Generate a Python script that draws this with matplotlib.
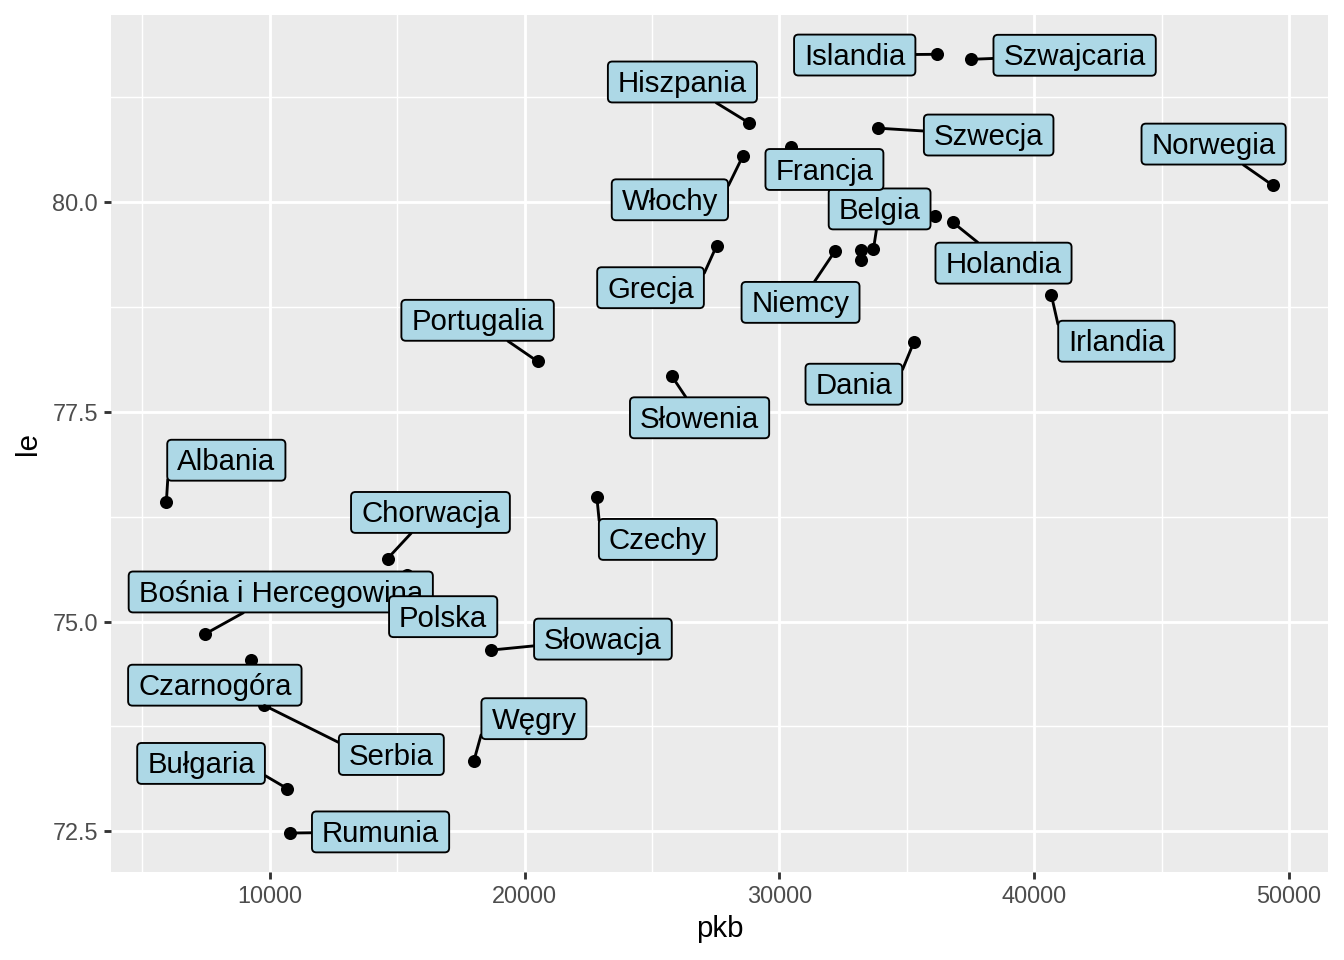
import matplotlib
matplotlib.use("Agg")
import matplotlib.pyplot as plt
from matplotlib.path import Path
from matplotlib.ticker import FixedLocator, FuncFormatter

plt.rcParams['font.family'] = ['Liberation Sans', 'DejaVu Sans']

# data: European countries (2007), GDP per capita vs life expectancy
kraje = ["Albania", "Austria", "Belgia", "Bośnia i Hercegowina", "Bułgaria",
         "Chorwacja", "Czechy", "Dania", "Finlandia", "Francja", "Niemcy",
         "Grecja", "Węgry", "Islandia", "Irlandia", "Włochy", "Czarnogóra",
         "Holandia", "Norwegia", "Polska", "Portugalia", "Rumunia", "Serbia",
         "Słowacja", "Słowenia", "Hiszpania", "Szwecja", "Szwajcaria",
         "Wielka Brytania"]
pkb = [5937, 36126, 33693, 7446, 10681, 14619, 22833, 35278, 33207, 30470,
       32170, 27538, 18009, 36181, 40675, 28570, 9254, 36798, 49357, 15390,
       20510, 10808, 9787, 18678, 25768, 28821, 33860, 37506, 33203]
le = [76.42, 79.83, 79.44, 74.85, 73.01, 75.75, 76.49, 78.33, 79.31, 80.66,
      79.41, 79.48, 73.34, 81.76, 78.89, 80.55, 74.54, 79.76, 80.20, 75.56,
      78.10, 72.48, 74.00, 74.66, 77.93, 80.94, 80.88, 81.70, 79.43]

# label placement: offset of box centre in points, draw segment?
etykiety = {
    "Islandia": (-30.8, -0.3, True), "Szwajcaria": (39, 1.5, True),
    "Hiszpania": (-25.1, 15.4, True), "Szwecja": (41.6, -2.6, True),
    "Norwegia": (-22.1, 15.4, True), "Francja": (12.4, -8.6, True),
    "Włochy": (-27.4, -16.5, True), "Belgia": (2.3, 15, True),
    "Holandia": (19.1, -15.4, True), "Grecja": (-24.8, -15.8, True),
    "Niemcy": (-12.8, -19.1, True), "Irlandia": (24.4, -17.3, True),
    "Portugalia": (-22.5, 15.4, True), "Dania": (-22.5, -15.8, True),
    "Słowenia": (10.5, -15.8, True), "Albania": (22.5, 15.8, True),
    "Chorwacja": (16.1, 17.3, True), "Czechy": (22.9, -16.1, True),
    "Bośnia i Hercegowina": (28.5, 15.8, True), "Polska": (13.5, -15.8, False),
    "Słowacja": (42, 4.1, True), "Czarnogóra": (-13.5, -9.4, False),
    "Serbia": (47.6, -18.4, True), "Węgry": (22.5, 15.8, True),
    "Bułgaria": (-32.3, 9.4, True), "Rumunia": (33.8, 0.4, True),
}


def ramka(x0, y0, width, height, mutation_size):
    # rounded label box, wider padding left/right, text sits a bit low
    px = 0.34 * mutation_size
    pb = 0.15 * mutation_size
    pt = 0.29 * mutation_size
    r = 0.15 * mutation_size
    x0, y0 = x0 - px, y0 - pb
    x1, y1 = x0 + width + 2 * px, y0 + height + pb + pt
    cp = [(x0 + r, y0), (x1 - r, y0), (x1, y0), (x1, y0 + r),
          (x1, y1 - r), (x1, y1), (x1 - r, y1), (x0 + r, y1), (x0, y1),
          (x0, y1 - r), (x0, y0 + r), (x0, y0), (x0 + r, y0), (x0 + r, y0)]
    com = [Path.MOVETO, Path.LINETO, Path.CURVE3, Path.CURVE3, Path.LINETO,
           Path.CURVE3, Path.CURVE3, Path.LINETO, Path.CURVE3, Path.CURVE3,
           Path.LINETO, Path.CURVE3, Path.CURVE3, Path.CLOSEPOLY]
    return Path(cp, com)


fig = plt.figure(figsize=(7, 5), dpi=192)
ax = fig.add_axes([0.0826, 0.0917, 0.988 - 0.0826, 0.984 - 0.0917])
ax.set_facecolor('#EBEBEB')
for s in ax.spines.values():
    s.set_visible(False)

ax.scatter(pkb, le, s=24, color='black', zorder=2, linewidths=0)

xr = max(pkb) - min(pkb)
yr = max(le) - min(le)
ax.set_xlim(min(pkb) - 0.05 * xr, max(pkb) + 0.05 * xr)
ax.set_ylim(min(le) - 0.05 * yr, max(le) + 0.05 * yr)

box = dict(boxstyle=ramka, fc='#ADD8E6', ec='black', lw=0.7)
shift = -0.75  # text centre sits below box centre

# first pass: place boxes, measure them
labels = []
for nazwa, x, y in zip(kraje, pkb, le):
    if nazwa not in etykiety:
        continue
    dx, dy, seg = etykiety[nazwa]
    a = ax.annotate(nazwa, xy=(x, y), xytext=(dx, dy + shift),
                    textcoords='offset points', ha='center', va='center',
                    fontsize=11, bbox=box, zorder=3, annotation_clip=False)
    labels.append((a, nazwa, x, y, dx, dy, seg))

fig.canvas.draw()
r = fig.canvas.get_renderer()

# second pass: redraw with segments (corner -> along the side edge,
# otherwise aimed at the box centre)
for a, nazwa, x, y, dx, dy, seg in labels:
    tb = a.get_window_extent(r)
    pb = a.get_bbox_patch().get_window_extent(r)
    a.remove()
    ap = None
    if seg:
        qx, qy = ax.transData.transform((x, y))
        lewo, prawo = qx < pb.x0, qx > pb.x1
        dol, gora = qy < pb.y0, qy > pb.y1
        if (lewo or prawo) and (dol or gora):
            cx = pb.x0 + 1 if lewo else pb.x1 - 1
            cy = pb.y0 + 9 if dol else pb.y1 - 9
        else:
            cx, cy = (pb.x0 + pb.x1) / 2, (pb.y0 + pb.y1) / 2
        rel = ((cx - tb.x0) / tb.width, (cy - tb.y0) / tb.height)
        ap = dict(arrowstyle='-', color='black', lw=1.07, shrinkA=0,
                  shrinkB=0, relpos=rel)
    ax.annotate(nazwa, xy=(x, y), xytext=(dx, dy + shift),
                textcoords='offset points', ha='center', va='center',
                fontsize=11, bbox=box, arrowprops=ap, zorder=3,
                annotation_clip=False)

ax.xaxis.set_major_locator(FixedLocator([10000, 20000, 30000, 40000, 50000]))
ax.xaxis.set_minor_locator(FixedLocator([5000, 15000, 25000, 35000, 45000]))
ax.yaxis.set_major_locator(FixedLocator([72.5, 75.0, 77.5, 80.0]))
ax.yaxis.set_minor_locator(FixedLocator([73.75, 76.25, 78.75, 81.25]))
ax.yaxis.set_major_formatter(FuncFormatter(lambda v, p: f"{v:.1f}"))
ax.xaxis.set_major_formatter(FuncFormatter(lambda v, p: f"{int(v)}"))

ax.grid(which='major', color='white', lw=1.07)
ax.grid(which='minor', color='white', lw=0.53)
ax.set_axisbelow(True)
ax.tick_params(which='major', length=2.75, width=1.07, color='#333333',
               labelsize=8.8, labelcolor='#4D4D4D', pad=2.2)
ax.tick_params(which='minor', length=0)

ax.set_xlabel("pkb", fontsize=11, labelpad=2.5)
ax.set_ylabel("le", fontsize=11, labelpad=4)

fig.savefig("out.png", dpi=192)
